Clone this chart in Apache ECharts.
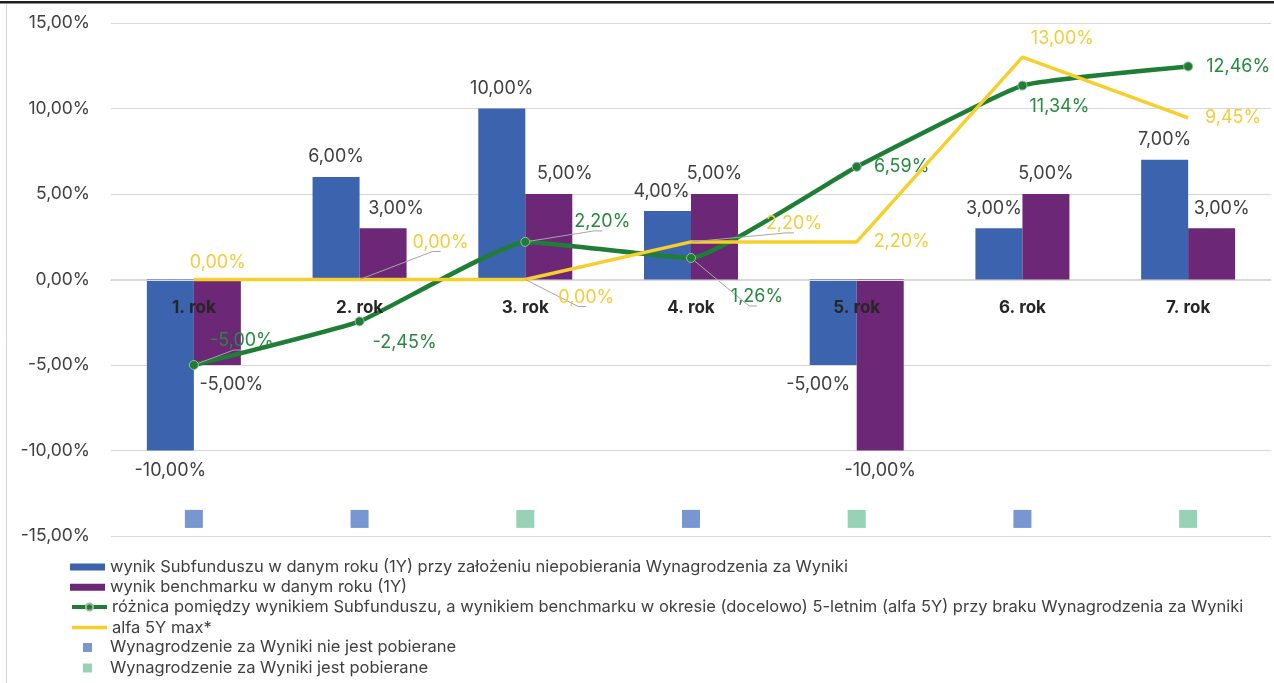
<!DOCTYPE html>
<html><head><meta charset="utf-8">
<script src="https://cdn.jsdelivr.net/npm/echarts@6/dist/echarts.min.js"></script>
<style>html,body{margin:0;padding:0;background:#fff}#c{width:1274px;height:683px}</style>
</head><body><div id="c"></div>
<script>
// ---- data ----
const categories = ['1. rok', '2. rok', '3. rok', '4. rok', '5. rok', '6. rok', '7. rok'];
const subFundResult = [-10, 6, 10, 4, -5, 3, 7];
const benchmarkResult = [-5, 3, 5, 5, -10, 5, 3];
const alpha5Y = [-5.00, -2.45, 2.20, 1.26, 6.59, 11.34, 12.46];
const alpha5YMax = [0, 0, 0, 2.20, 2.20, 13.00, 9.45];
const feeNotCharged = [-14, -14, '-', -14, '-', -14, '-'];
const feeCharged = ['-', '-', -14, '-', -14, '-', -14];
const yMin = -15, yMax = 15, yStep = 5;
const seriesNames = [
  'wynik Subfunduszu w danym roku (1Y) przy założeniu niepobierania Wynagrodzenia za Wyniki',
  'wynik benchmarku w danym roku (1Y)',
  'różnica pomiędzy wynikiem Subfunduszu, a wynikiem benchmarku w okresie (docelowo) 5-letnim (alfa 5Y) przy braku Wynagrodzenia za Wyniki',
  'alfa 5Y max*',
  'Wynagrodzenie za Wyniki nie jest pobierane',
  'Wynagrodzenie za Wyniki jest pobierane'
];

// ---- label layout (styling only) ----
const subLabelShift = [0, 0, 0, -6, -15, -5, 0];
const benchLabelShift = [14, 13, 16, 0, 0, 0, 10];
const greenLabelOffset = [[48, -24], [45, 21], [77, -20], [66, 39], [45, 0], [37, 21], [50, 0]];
const greenLeader = [true, false, true, true, false, false, false];
const yellowLabelOffset = [[24, -17], [81, -37], [61, 18], [103, -18], [45, 0], [40, -19], [45, 0]];
const yellowLeader = [false, true, true, true, false, false, false];

const FONT = 'Inter';
const fmt = v => v.toFixed(2).replace('.', ',') + '%';

const COL = {
  blue: '#3C63AD', purple: '#6C2777', green: '#1E7E35', greenText: '#258A3C',
  yellow: '#F6CF2D', yellowText: '#F3CD3A', markBlue: '#7896CF', markGreen: '#97D2B7',
  text: '#404040', grid: '#D9D9D9', leader: '#A6A6A6'
};

function barData(values, shifts) {
  return values.map((v, i) => ({
    value: v,
    label: {
      position: v >= 0 ? 'top' : 'bottom',
      offset: [shifts[i], 0]
    }
  }));
}
function lineData(values, offsets, leaders) {
  return values.map((v, i) => ({
    value: v,
    label: { offset: offsets[i] },
    labelLine: { show: leaders[i] }
  }));
}

const chart = echarts.init(document.getElementById('c'), null, { renderer: 'canvas' });
const legendText = { fontFamily: FONT, fontSize: 16.5, color: COL.text, lineHeight: 20 };

chart.setOption({
  animation: false,
  backgroundColor: '#fff',
  grid: { left: 111, right: 3, top: 23, bottom: 147, containLabel: false },
  xAxis: {
    type: 'category', data: categories, z: 5,
    offset: -256,
    axisLine: { onZero: false, lineStyle: { color: COL.grid, width: 1 } },
    axisTick: { show: false },
    axisLabel: { fontFamily: FONT, fontWeight: 'bold', fontSize: 17, color: '#262626', margin: 19 }
  },
  yAxis: {
    type: 'value', min: yMin, max: yMax, interval: yStep,
    axisLine: { show: false }, axisTick: { show: false },
    axisLabel: { formatter: fmt, fontFamily: FONT, fontSize: 17.5, color: COL.text, margin: 21 },
    splitLine: { lineStyle: { color: COL.grid, width: 1 } }
  },
  legend: [
    {
      data: [seriesNames[0], seriesNames[1]], orient: 'vertical', left: 70, top: 557, padding: 0,
      itemWidth: 35, itemHeight: 7, itemGap: 0.3, icon: 'rect', textStyle: legendText, selectedMode: false
    },
    {
      data: [seriesNames[2], { name: seriesNames[3], lineStyle: { width: 3.5 } }], orient: 'vertical', left: 70, top: 597, padding: 0,
      itemWidth: 35, itemHeight: 9, itemGap: 0.6, textStyle: legendText, selectedMode: false,
      lineStyle: { width: 4 }
    },
    {
      data: [seriesNames[4], seriesNames[5]], orient: 'vertical', left: 83, top: 637.5, padding: 0,
      itemWidth: 9, itemHeight: 9, itemGap: 0.5, icon: 'rect',
      textStyle: Object.assign({}, legendText, { padding: [0, 0, 0, 13] }), selectedMode: false
    }
  ],
  graphic: [
    { type: 'rect', left: 0, top: 1, shape: { width: 1274, height: 2.5 }, style: { fill: '#1E1E1E' }, silent: true },
    { type: 'line', shape: { x1: 6.5, y1: 4, x2: 6.5, y2: 683 }, style: { stroke: '#D4D4D4', lineWidth: 1 }, silent: true }
  ],
  series: [
    {
      name: seriesNames[0], type: 'bar', data: barData(subFundResult, subLabelShift),
      barWidth: 47, barGap: '0%', itemStyle: { color: COL.blue },
      label: { show: true, formatter: p => fmt(p.value), fontFamily: FONT, fontSize: 18, color: COL.text, lineHeight: 22, distance: 9 }
    },
    {
      name: seriesNames[1], type: 'bar', data: barData(benchmarkResult, benchLabelShift),
      barWidth: 47, barGap: '0%', itemStyle: { color: COL.purple },
      label: { show: true, formatter: p => fmt(p.value), fontFamily: FONT, fontSize: 18, color: COL.text, lineHeight: 22, distance: 9 }
    },
    {
      name: seriesNames[2], type: 'line', data: lineData(alpha5Y, greenLabelOffset, greenLeader),
      smooth: 0.12, symbol: 'circle', symbolSize: 9, showAllSymbol: true, z: 4,
      lineStyle: { color: COL.green, width: 4.5 },
      itemStyle: { color: COL.green, borderColor: '#9DB89F', borderWidth: 1 },
      label: { show: true, position: 'inside', formatter: p => fmt(p.value), fontFamily: FONT, fontSize: 18, color: COL.greenText },
      labelLine: { show: false, length2: 8, lineStyle: { color: COL.leader, width: 1 } }
    },
    {
      name: seriesNames[3], type: 'line', data: lineData(alpha5YMax, yellowLabelOffset, yellowLeader),
      symbol: 'circle', symbolSize: 1, showAllSymbol: true, z: 5,
      lineStyle: { color: COL.yellow, width: 3.5 },
      itemStyle: { color: 'rgba(0,0,0,0)' },
      label: { show: true, position: 'inside', formatter: p => fmt(p.value), fontFamily: FONT, fontSize: 18, color: COL.yellowText },
      labelLine: { show: false, length2: 8, lineStyle: { color: COL.leader, width: 1 } }
    },
    {
      name: seriesNames[4], type: 'scatter', data: feeNotCharged, symbol: 'rect', symbolSize: 18,
      itemStyle: { color: COL.markBlue, opacity: 1 }
    },
    {
      name: seriesNames[5], type: 'scatter', data: feeCharged, symbol: 'rect', symbolSize: 18,
      itemStyle: { color: COL.markGreen, opacity: 1 }
    }
  ]
});
</script>
</body></html>
